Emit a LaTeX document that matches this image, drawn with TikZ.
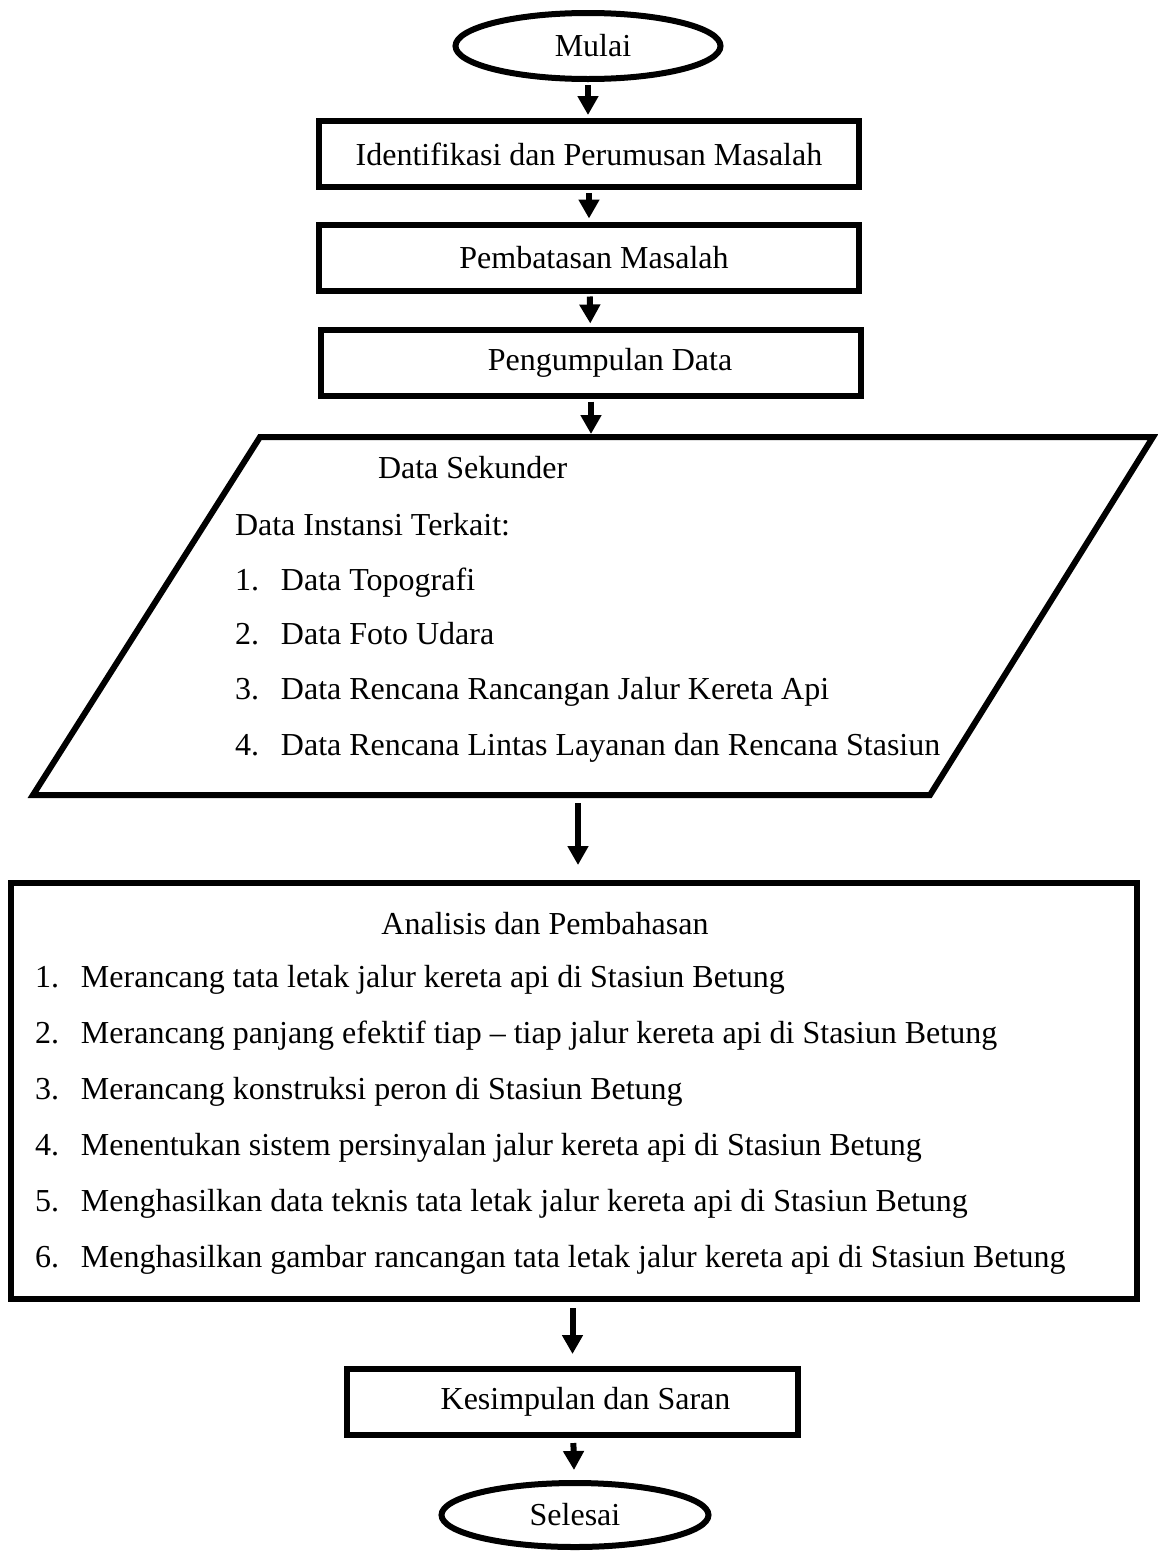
\documentclass[tikz,border=0pt]{standalone}
\usepackage{fontspec}
\setmainfont{Liberation Serif}
\usetikzlibrary{shapes.geometric,arrows.meta}

\begin{document}
\begin{tikzpicture}
  [
    x=0.5pt,y=-0.5pt,
    font=\fontsize{16}{19}\selectfont,
    line width=3pt,
    terminal/.style={ellipse,draw,minimum width=132.5pt,minimum height=33pt,inner sep=0pt},
    process/.style={rectangle,draw,minimum width=270pt,minimum height=33pt,inner sep=0pt},
    bigbox/.style={rectangle,draw,minimum width=563pt,minimum height=208pt,inner sep=0pt},
    row/.style={anchor=west,inner sep=0pt,text height=10.6pt,text depth=0pt},
    flow/.style={-{Triangle[width=10pt,length=9.5pt]},shorten <=1.5pt,shorten >=1.5pt},
  ]
  \useasboundingbox (0,0) rectangle (1157,1553);

  % start and first steps
  \node (mulai) at (588,46) [terminal] {\hspace*{5pt}Mulai};
  \node (identifikasi) at (589,154) [process] {Identifikasi dan Perumusan Masalah};
  \node (pembatasan) at (589,257.5) [process] {\hspace*{5pt}Pembatasan Masalah};
  \node (pengumpulan) at (591,362.5) [process] {\hspace*{19pt}Pengumpulan Data};

  % data sekunder
  \coordinate (sek-tl) at (260,437);
  \coordinate (sek-tr) at (1153,437);
  \coordinate (sek-br) at (930,795);
  \coordinate (sek-bl) at (33,795);
  \coordinate (sek-out) at (578,803);
  \draw (sek-tl) -- (sek-tr) -- (sek-br) -- (sek-bl) -- cycle;
  \node (sekunder) at (375,468) [row] {Data Sekunder};
  \node (instansi) at (232,525) [row] {Data Instansi Terkait:};
  \node (sek1) at (232,580) [row] {\makebox[23pt][l]{1.}Data Topografi};
  \node (sek2) at (232,634) [row] {\makebox[23pt][l]{2.}Data Foto Udara};
  \node (sek3) at (232,689) [row] {\makebox[23pt][l]{3.}Data Rencana Rancangan Jalur Kereta Api};
  \node (sek4) at (232,745) [row] {\makebox[23pt][l]{4.}Data Rencana Lintas Layanan dan Rencana Stasiun};

  % analisis
  \node (analisis) at (574,1091) [bigbox] {};
  \node (judul) at (545,924) [row,anchor=center] {Analisis dan Pembahasan};
  \node (ana1) at (32,977) [row] {\makebox[23pt][l]{1.}Merancang tata letak jalur kereta api di Stasiun Betung};
  \node (ana2) at (32,1033) [row] {\makebox[23pt][l]{2.}Merancang panjang efektif tiap – tiap jalur kereta api di Stasiun Betung};
  \node (ana3) at (32,1089) [row] {\makebox[23pt][l]{3.}Merancang konstruksi peron di Stasiun Betung};
  \node (ana4) at (32,1145) [row] {\makebox[23pt][l]{4.}Menentukan sistem persinyalan jalur kereta api di Stasiun Betung};
  \node (ana5) at (32,1201) [row] {\makebox[23pt][l]{5.}Menghasilkan data teknis tata letak jalur kereta api di Stasiun Betung};
  \node (ana6) at (32,1257) [row] {\makebox[23pt][l]{6.}Menghasilkan gambar rancangan tata letak jalur kereta api di Stasiun Betung};

  % end
  \node (kesimpulan) at (572.5,1402) [process,minimum width=225.5pt] {\hspace*{13pt}Kesimpulan dan Saran};
  \node (selesai) at (575,1515) [terminal,minimum width=133.5pt,minimum height=32pt] {Selesai};

  % arrows
  \draw [flow] (mulai.south) -- (mulai.south |- identifikasi.north);
  \draw [flow] (identifikasi) -- (pembatasan);
  \draw [flow] (pembatasan) -- (pengumpulan);
  \draw [flow] (pengumpulan.south) -- (pengumpulan.south |- sek-tl);
  \draw [flow,shorten <=0pt,shorten >=7.5pt] (sek-out) -- (sek-out |- analisis.north);
  \draw [flow,shorten <=3pt,shorten >=6pt] (analisis.south -| kesimpulan.north) -- (kesimpulan.north);
  \draw [flow,shorten <=2.5pt,shorten >=5pt] (kesimpulan) -- (selesai);
\end{tikzpicture}
\end{document}
